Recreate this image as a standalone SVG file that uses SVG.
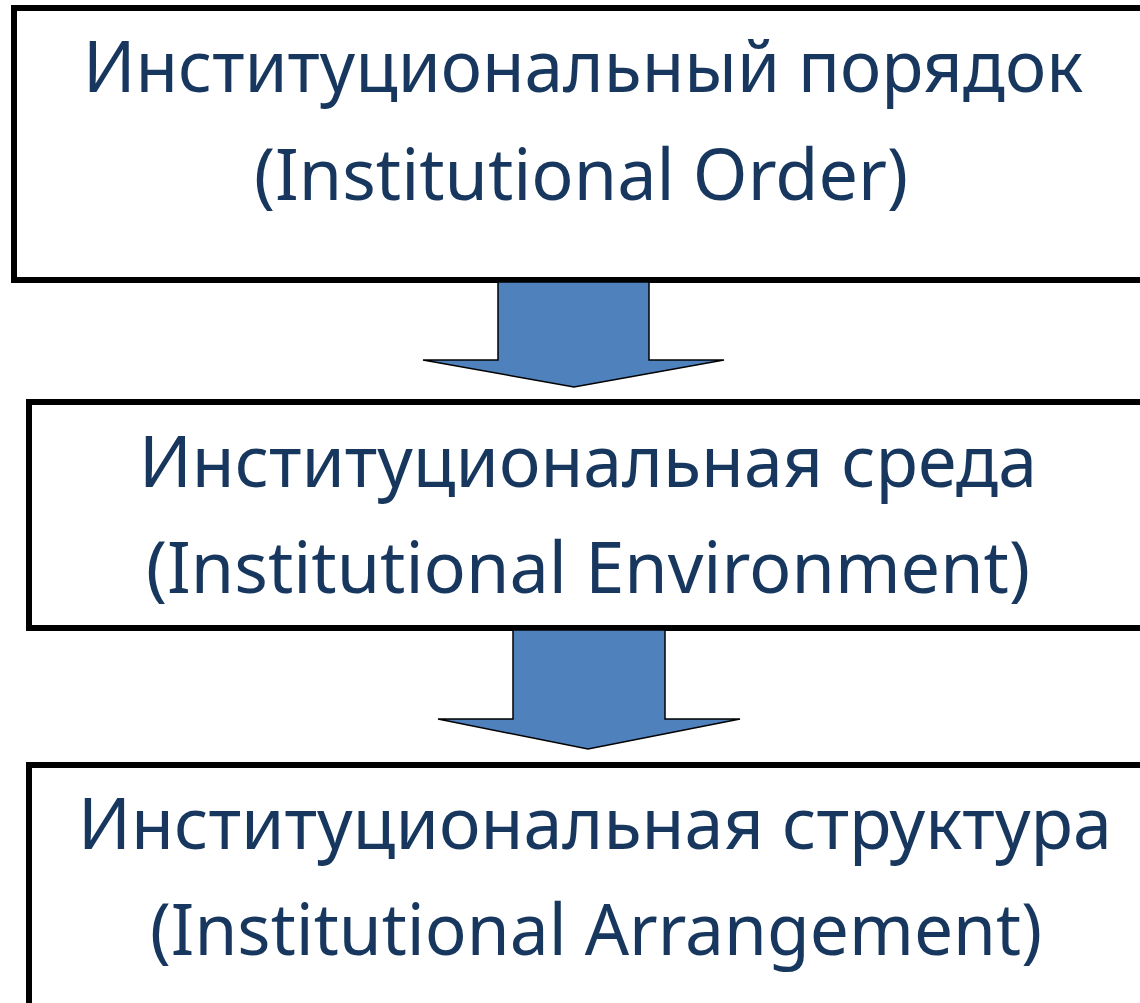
<svg xmlns="http://www.w3.org/2000/svg" width="1140" height="1003" viewBox="0 0 1140 1003">
<style>
.box{fill:#fff;stroke:#000;stroke-width:6}
.arr{fill:#4F81BD;stroke:#000;stroke-width:1.5;stroke-linejoin:miter}
.t{font-family:"Noto Sans","DejaVu Sans",sans-serif;font-size:72px;fill:#17375E;text-anchor:middle}
</style>
<rect width="1140" height="1003" fill="#fff"/>
<g id="node1">
<rect class="box" x="14" y="8" width="1140" height="272"/>
<text class="t" x="583" y="92" textLength="1000" lengthAdjust="spacingAndGlyphs">Институциональный порядок</text>
<text class="t" x="581" y="200" textLength="654" lengthAdjust="spacingAndGlyphs">(Institutional Order)</text>
</g>
<g id="node2">
<rect class="box" x="29" y="402" width="1130" height="226"/>
<text class="t" x="588" y="487" textLength="898" lengthAdjust="spacingAndGlyphs">Институциональная среда</text>
<text class="t" x="588" y="593" textLength="884" lengthAdjust="spacingAndGlyphs">(Institutional Environment)</text>
</g>
<g id="node3">
<rect class="box" x="29" y="765" width="1130" height="260"/>
<text class="t" x="595" y="849" textLength="1034" lengthAdjust="spacingAndGlyphs">Институциональная структура</text>
<text class="t" x="596" y="955" textLength="892" lengthAdjust="spacingAndGlyphs">(Institutional Arrangement)</text>
</g>
<g id="connectors">
<polygon class="arr" points="498,282 649,282 649,360 724,360 574,387 423,360 498,360"/>
<polygon class="arr" points="513,630 665,630 665,719 740,719 588,749 438,719 513,719"/>
</g>
</svg>
